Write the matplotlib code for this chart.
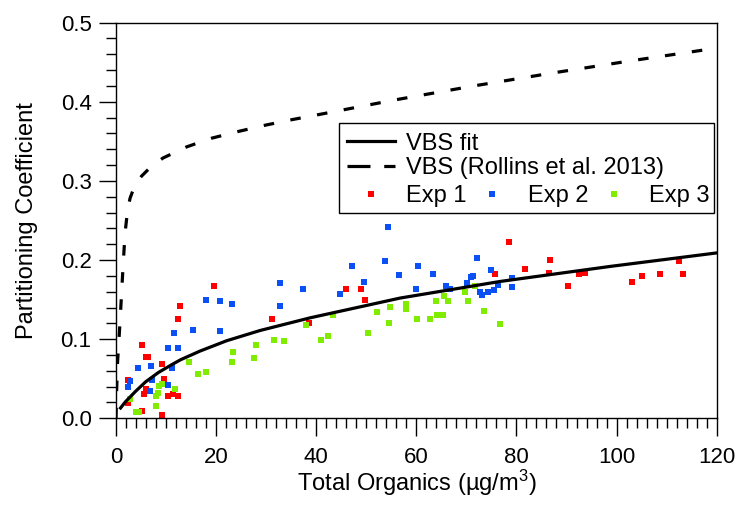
import numpy as np
import matplotlib
matplotlib.use("Agg")
import matplotlib.pyplot as plt
from matplotlib.lines import Line2D
from matplotlib.patches import Rectangle
from matplotlib.ticker import MultipleLocator, FormatStrFormatter

plt.rcParams['font.family'] = ['Liberation Sans', 'DejaVu Sans']
plt.rcParams['mathtext.fontset'] = 'custom'
plt.rcParams['mathtext.rm'] = 'Liberation Sans'
plt.rcParams['mathtext.it'] = 'Liberation Sans'

# VBS fit curve
vbs_x = [0.9, 1.9, 3.9, 5.9, 8.5, 11.2, 12.9, 16.8, 22.1, 28.8, 38.8, 56.8, 76.8, 98.8, 120]
vbs_y = [0.013, 0.021, 0.034, 0.046, 0.058, 0.068, 0.074, 0.085, 0.098, 0.111, 0.127, 0.152, 0.173, 0.192, 0.209]

# VBS (Rollins et al. 2013)
rol_x = [0, 0.13, 0.3, 0.67, 0.93, 1.33, 1.8, 2.3, 2.8, 3.5, 4.3, 5.1, 6.2, 7.6, 9.4, 14.1, 19.1, 24.1,
         29.5, 34.8, 39.8, 55.4, 71.4, 86.8, 102, 118, 120]
rol_y = [0.0, 0.036, 0.07, 0.108, 0.137, 0.183, 0.234, 0.262, 0.278, 0.290, 0.299, 0.306, 0.313,
         0.321, 0.329, 0.343, 0.354, 0.362, 0.370, 0.377, 0.383, 0.402, 0.420, 0.436, 0.451,
         0.466, 0.468]

# experiments
exp1_x = [19.6, 12.7, 12.4, 5.2, 5.9, 6.4, 9.1, 2.3, 9.6, 6.0, 5.6, 2.4, 10.4, 11.3, 12.4, 5.2, 9.1,
          31.1, 38.5, 46.0, 48.9, 49.7, 78.5, 75.0, 75.7, 81.7, 86.8, 86.5, 92.4, 93.7, 90.3,
          103.1, 105.0, 108.7, 112.4, 113.2]
exp1_y = [0.167, 0.142, 0.125, 0.093, 0.077, 0.078, 0.069, 0.049, 0.050, 0.0365, 0.031, 0.019,
          0.028, 0.031, 0.028, 0.009, 0.004, 0.125, 0.121, 0.163, 0.163, 0.149, 0.2225, 0.187,
          0.182, 0.189, 0.2005, 0.184, 0.182, 0.184, 0.167, 0.172, 0.180, 0.182, 0.1985, 0.182]

exp2_x = [18.0, 20.7, 23.1, 11.6, 15.3, 20.7, 10.3, 12.4, 4.3, 6.9, 11.1, 2.8, 2.3, 7.1, 10.4, 6.8,
          32.7, 37.3, 32.7, 54.3, 47.1, 53.7, 60.4, 49.5, 56.6, 63.3, 44.7, 59.9, 72.1, 66.0, 66.8,
          70.1, 70.9, 71.3, 72.8, 73.1, 74.3, 75.5, 76.3, 75.0, 79.1, 79.1]
exp2_y = [0.150, 0.148, 0.144, 0.108, 0.111, 0.110, 0.089, 0.089, 0.063, 0.066, 0.063, 0.047, 0.039,
          0.048, 0.042, 0.034, 0.171, 0.163, 0.142, 0.242, 0.192, 0.199, 0.192, 0.172, 0.181, 0.182,
          0.157, 0.163, 0.202, 0.167, 0.164, 0.1715, 0.178, 0.180, 0.159, 0.156, 0.160, 0.162,
          0.169, 0.187, 0.177, 0.166]

exp3_x = [14.5, 16.4, 18.0, 23.1, 23.3, 27.6, 27.9, 31.6, 33.5, 37.9, 8.5, 9.1, 8.3, 7.9, 11.7,
          7.9, 3.9, 4.5, 2.7, 40.9, 42.3, 43.3, 50.3, 52.1, 54.5, 54.8, 58.0, 58.0, 60.1, 62.8,
          64.1, 65.3, 64.0, 65.5, 66.3, 70.3, 69.8, 71.8, 73.5, 76.7]
exp3_y = [0.071, 0.056, 0.059, 0.071, 0.084, 0.076, 0.093, 0.099, 0.098, 0.118, 0.041, 0.043,
          0.0325, 0.028, 0.037, 0.016, 0.008, 0.008, 0.024, 0.099, 0.104, 0.130, 0.1075, 0.134,
          0.121, 0.141, 0.144, 0.138, 0.125, 0.126, 0.131, 0.131, 0.148, 0.154, 0.148, 0.148,
          0.160, 0.167, 0.136, 0.119]

red = '#ff0000'
blue = '#0a50f5'
green = '#80ec00'

fig = plt.figure(figsize=(7.38, 5.05), dpi=100)
ax = fig.add_axes([0.1572, 0.1717, 0.8139, 0.7834])

msize = 22
ax.scatter(exp1_x, exp1_y, s=msize, marker='s', color=red, linewidths=0, zorder=2)
ax.scatter(exp2_x, exp2_y, s=msize, marker='s', color=blue, linewidths=0, zorder=2)
ax.scatter(exp3_x, exp3_y, s=msize, marker='s', color=green, linewidths=0, zorder=2)
ax.plot(vbs_x, vbs_y, color='black', lw=2.3, zorder=3)
ax.plot(rol_x, rol_y, color='black', lw=2.3, dashes=(3.3, 5.2), zorder=3)

ax.set_xlim(0, 120)
ax.set_ylim(0, 0.5)
ax.xaxis.set_major_locator(MultipleLocator(20))
ax.xaxis.set_minor_locator(MultipleLocator(2))
ax.yaxis.set_major_locator(MultipleLocator(0.1))
ax.yaxis.set_minor_locator(MultipleLocator(0.02))
ax.yaxis.set_major_formatter(FormatStrFormatter('%.1f'))
ax.tick_params(which='major', direction='out', length=12.6, width=1, labelsize=16, pad=5)
ax.tick_params(which='minor', direction='out', length=7, width=1)
ax.tick_params(axis='x', which='major', pad=8)
for sp in ax.spines.values():
    sp.set_linewidth(1)

ax.set_xlabel('Total Organics (µg/m$^{3}$)', fontsize=17, labelpad=0)
ax.set_ylabel('Partitioning Coefficient', fontsize=17, labelpad=16)

# legend: box + two rows of entries
ax.add_patch(Rectangle((0.371, 0.519), 0.6245, 0.2275, transform=ax.transAxes,
                       facecolor='white', edgecolor='black', lw=1, zorder=4))
line_handles = [Line2D([], [], color='black', lw=2.3),
                Line2D([], [], color='black', lw=2.3, dashes=(7.2, 4.3))]
leg1 = ax.legend(line_handles, ['VBS fit', 'VBS (Rollins et al. 2013)'],
                 loc='upper left', bbox_to_anchor=(0.384, 0.722), frameon=False,
                 fontsize=17, borderpad=0, borderaxespad=0, handlelength=2.05,
                 handletextpad=0.47, labelspacing=0.12)
ax.add_artist(leg1)
pt_handles = [Line2D([], [], ls='none', marker='s', ms=4.5, color=c, mew=0) for c in (red, blue, green)]
ax.legend(pt_handles, ['Exp 1', 'Exp 2', 'Exp 3'], ncol=3,
          loc='upper left', bbox_to_anchor=(0.384, 0.589), frameon=False,
          fontsize=17, borderpad=0, borderaxespad=0, handlelength=2.05,
          handletextpad=0.47, columnspacing=0.06)

fig.savefig('out.png', dpi=100)
